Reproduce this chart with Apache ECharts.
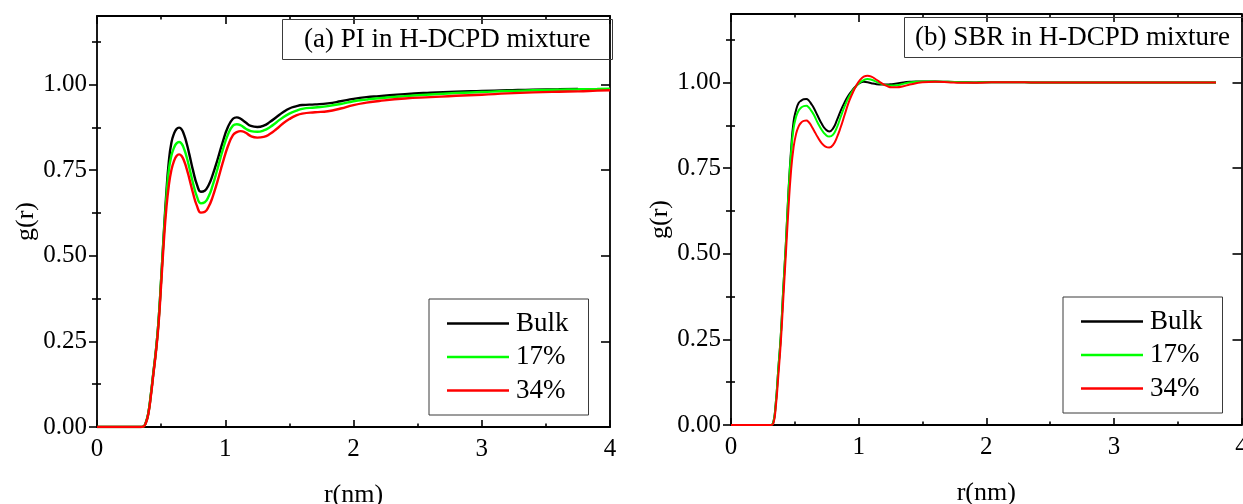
<!DOCTYPE html>
<html>
<head>
<meta charset="utf-8">
<script src="https://cdn.jsdelivr.net/npm/echarts@6/dist/echarts.min.js"></script>
<style>
  html, body { margin: 0; padding: 0; background: #ffffff; }
  #chart { width: 1243px; height: 504px; }
</style>
</head>
<body>
<div id="chart"></div>
<script>
// Radial distribution functions g(r) of the rubber chains in H-DCPD mixtures
const seriesNames = ['Bulk', '17%', '34%'];
const seriesColors = ['#000000', '#00ff00', '#ff0000'];

// Panel (a): PI
const rPI = [0, 0.2, 0.34, 0.36, 0.38, 0.40, 0.42, 0.44, 0.46, 0.48,
  0.50, 0.52, 0.54, 0.56, 0.58, 0.60, 0.62, 0.64, 0.66, 0.68,
  0.70, 0.72, 0.75, 0.78, 0.81, 0.84, 0.87, 0.90, 0.94, 0.98,
  1.02, 1.06, 1.09, 1.12, 1.16, 1.20, 1.25, 1.30, 1.35, 1.40,
  1.45, 1.50, 1.55, 1.60, 1.70, 1.80, 1.90, 2.0, 2.1, 2.2,
  2.4, 2.6, 2.8, 3.0, 3.2, 3.4, 3.6, 3.75, 3.9, 4.0];
const gPIBulk = [0, 0, 0, 0.001, 0.012, 0.04, 0.095, 0.16, 0.225, 0.31,
  0.43, 0.56, 0.68, 0.775, 0.83, 0.856, 0.870, 0.874, 0.869, 0.852,
  0.827, 0.796, 0.747, 0.707, 0.687, 0.690, 0.706, 0.734, 0.781, 0.832,
  0.875, 0.900, 0.904, 0.900, 0.889, 0.879, 0.876, 0.880, 0.891, 0.905,
  0.919, 0.930, 0.936, 0.940, 0.942, 0.945, 0.951, 0.958, 0.963, 0.966,
  0.972, 0.976, 0.979, 0.981, 0.983, 0.985, 0.986, 0.987, null, null];
const gPI17 = [0, 0, 0, 0.001, 0.012, 0.04, 0.095, 0.16, 0.225, 0.31,
  0.43, 0.555, 0.665, 0.75, 0.792, 0.815, 0.828, 0.832, 0.827, 0.811,
  0.787, 0.757, 0.710, 0.672, 0.653, 0.656, 0.673, 0.703, 0.754, 0.808,
  0.853, 0.880, 0.884, 0.881, 0.871, 0.864, 0.862, 0.866, 0.876, 0.890,
  0.904, 0.915, 0.923, 0.929, 0.933, 0.937, 0.943, 0.951, 0.956, 0.960,
  0.966, 0.971, 0.975, 0.978, 0.981, 0.983, 0.985, 0.986, 0.987, 0.988];
const gPI34 = [0, 0, 0, 0.001, 0.011, 0.038, 0.09, 0.155, 0.22, 0.30,
  0.415, 0.535, 0.635, 0.705, 0.75, 0.776, 0.791, 0.796, 0.791, 0.776,
  0.753, 0.725, 0.681, 0.645, 0.626, 0.628, 0.643, 0.670, 0.718, 0.771,
  0.819, 0.852, 0.861, 0.864, 0.859, 0.849, 0.845, 0.847, 0.856, 0.870,
  0.886, 0.899, 0.909, 0.915, 0.919, 0.922, 0.930, 0.940, 0.947, 0.952,
  0.959, 0.963, 0.967, 0.970, 0.974, 0.977, 0.979, 0.980, 0.982, 0.983];

// Panel (b): SBR
const rSBR = [0, 0.2, 0.31, 0.33, 0.35, 0.37, 0.39, 0.41, 0.43, 0.45,
  0.47, 0.49, 0.51, 0.53, 0.55, 0.57, 0.59, 0.61, 0.63, 0.65,
  0.68, 0.71, 0.74, 0.77, 0.80, 0.83, 0.86, 0.89, 0.92, 0.95,
  0.98, 1.01, 1.04, 1.07, 1.10, 1.14, 1.18, 1.22, 1.26, 1.30,
  1.35, 1.40, 1.45, 1.50, 1.60, 1.70, 1.80, 1.90, 2.0, 2.1,
  2.2, 2.4, 2.6, 2.8, 3.0, 3.2, 3.4, 3.6, 3.8];
const gSBRBulk = [0, 0, 0, 0.005, 0.06, 0.16, 0.26, 0.40, 0.53, 0.68,
  0.80, 0.885, 0.92, 0.94, 0.947, 0.951, 0.952, 0.947, 0.937, 0.925,
  0.902, 0.88, 0.864, 0.857, 0.866, 0.89, 0.918, 0.942, 0.962, 0.977,
  0.99, 0.999, 1.002, 1.001, 0.998, 0.995, 0.994, 0.994, 0.995, 0.997,
  1.0, 1.002, 1.003, 1.003, 1.003, 1.002, 1.001, 1.0, 1.001, 1.001,
  1.001, 1.0, 1.0, 1.0, 1.0, 1.0, 1.0, 1.0, 1.0];
const gSBR17 = [0, 0, 0, 0.005, 0.06, 0.16, 0.26, 0.40, 0.53, 0.675,
  0.79, 0.865, 0.90, 0.918, 0.927, 0.931, 0.932, 0.927, 0.917, 0.905,
  0.882, 0.862, 0.848, 0.842, 0.848, 0.869, 0.90, 0.93, 0.955, 0.974,
  0.989, 1.0, 1.007, 1.01, 1.008, 1.002, 0.996, 0.992, 0.991, 0.992,
  0.996, 1.0, 1.002, 1.003, 1.003, 1.002, 1.001, 1.0, 1.001, 1.001,
  1.001, 1.0, 1.0, 1.0, 1.0, 1.0, 1.0, 1.0, 1.0];
const gSBR34 = [0, 0, 0, 0.003, 0.05, 0.14, 0.24, 0.37, 0.50, 0.63,
  0.74, 0.81, 0.85, 0.872, 0.883, 0.888, 0.889, 0.884, 0.873, 0.86,
  0.84, 0.823, 0.813, 0.810, 0.818, 0.84, 0.87, 0.905, 0.94, 0.967,
  0.99, 1.007, 1.017, 1.02, 1.017, 1.008, 0.998, 0.99, 0.986, 0.986,
  0.989, 0.994, 0.998, 1.001, 1.002, 1.001, 0.999, 0.999, 1.0, 1.001,
  1.001, 1.0, 1.0, 1.0, 1.0, 1.0, 1.0, 1.0, 1.0];

// Tick positions
const xMajorTicks = [0, 1, 2, 3, 4];
const yMajorTicks = [0, 0.25, 0.5, 0.75, 1.0];
const yMinorTicks = [0.125, 0.375, 0.625, 0.875, 1.125];

const serif = '"Liberation Serif", "Times New Roman", serif';
const ink = '#000000';
const boxInk = '#3a3a3a';
const frameWidth = 1.8;
const tickWidth = 1.6;

const panels = [
  {
    title: '(a) PI in H-DCPD mixture',
    r: rPI, g: [gPIBulk, gPI17, gPI34], lineWidth: 2.4,
    grid: { left: 97, top: 16, width: 513, height: 411 },
    titleBox: { left: 282, top: 19, padding: [7, 22, 7, 22] },
    legendBox: { left: 429, top: 299 }
  },
  {
    title: '(b) SBR in H-DCPD mixture',
    r: rSBR, g: [gSBRBulk, gSBR17, gSBR34], lineWidth: 2,
    grid: { left: 731, top: 14, width: 510.5, height: 411 },
    titleBox: { left: 904, top: 17, padding: [7, 30, 7, 11] },
    legendBox: { left: 1063, top: 297 }
  }
];

const toPairs = (xs, ys) => xs.map((x, i) => [x, ys[i]]).filter(p => p[1] !== null);

const option = {
  animation: false,
  backgroundColor: '#ffffff',
  title: [], legend: [], grid: [], xAxis: [], yAxis: [], series: []
};

panels.forEach((p, k) => {
  option.grid.push(Object.assign({ outerBoundsMode: 'none', containLabel: false }, p.grid));

  option.title.push({
    text: p.title,
    left: p.titleBox.left, top: p.titleBox.top,
    padding: p.titleBox.padding,
    borderColor: boxInk, borderWidth: 1,
    textStyle: { fontFamily: serif, fontSize: 27, fontWeight: 'normal', color: ink }
  });

  // legend keys are plain line segments in the series colours
  option.legend.push({
    data: seriesNames.map((n, i) => ({ name: n, icon: 'rect', itemStyle: { color: seriesColors[i] } })),
    orient: 'vertical',
    left: p.legendBox.left, top: p.legendBox.top,
    padding: [11, 20, 11, 18],
    itemWidth: 62, itemHeight: 2.4, itemGap: 6.5,
    borderColor: boxInk, borderWidth: 1,
    selectedMode: false,
    textStyle: { fontFamily: serif, fontSize: 27, color: ink, padding: [0, 0, 0, 2] }
  });

  const xBase = option.xAxis.length;
  // bottom axis with labels
  option.xAxis.push({
    type: 'value', gridIndex: k, position: 'bottom',
    min: 0, max: 4, interval: 1,
    name: 'r(nm)', nameLocation: 'middle', nameGap: 55,
    nameTextStyle: { fontFamily: serif, fontSize: 26, color: ink },
    axisLine: { show: true, onZero: false, lineStyle: { color: ink, width: frameWidth } },
    axisTick: { show: true, inside: true, length: 7, lineStyle: { color: ink, width: tickWidth } },
    minorTick: { show: true, splitNumber: 2, length: 3.5, lineStyle: { color: ink, width: tickWidth } },
    axisLabel: { show: true, margin: 10, fontFamily: serif, fontSize: 25, color: ink },
    splitLine: { show: false }
  });
  // top frame
  option.xAxis.push({
    type: 'value', gridIndex: k, position: 'top',
    min: 0, max: 4, interval: 1,
    axisLine: { show: true, onZero: false, lineStyle: { color: ink, width: frameWidth } },
    axisTick: { show: true, inside: true, length: 8, lineStyle: { color: ink, width: tickWidth } },
    minorTick: { show: true, splitNumber: 2, length: 3.5, lineStyle: { color: ink, width: tickWidth } },
    axisLabel: { show: false },
    splitLine: { show: false }
  });

  const yBase = option.yAxis.length;
  // left axis: labelled major ticks pointing out
  option.yAxis.push({
    type: 'value', gridIndex: k, position: 'left',
    min: 0, max: 1.2,
    name: 'g(r)', nameLocation: 'middle', nameGap: 58, nameRotate: 90,
    nameTextStyle: { fontFamily: serif, fontSize: 26, color: ink },
    axisLine: { show: true, onZero: false, lineStyle: { color: ink, width: frameWidth } },
    axisTick: { show: true, inside: false, length: 8, customValues: yMajorTicks, lineStyle: { color: ink, width: tickWidth } },
    axisLabel: { show: true, margin: 10, customValues: yMajorTicks, fontFamily: serif, fontSize: 25, color: ink,
      formatter: v => v.toFixed(2) },
    splitLine: { show: false }
  });
  // left axis: short minor ticks pointing in
  option.yAxis.push({
    type: 'value', gridIndex: k, position: 'left',
    min: 0, max: 1.2,
    axisLine: { show: false },
    axisTick: { show: true, inside: true, length: 4, customValues: yMinorTicks, lineStyle: { color: ink, width: tickWidth } },
    axisLabel: { show: false },
    splitLine: { show: false }
  });
  // right frame with major ticks pointing in
  option.yAxis.push({
    type: 'value', gridIndex: k, position: 'right',
    min: 0, max: 1.2,
    axisLine: { show: true, onZero: false, lineStyle: { color: ink, width: frameWidth } },
    axisTick: { show: true, inside: true, length: 9, customValues: yMajorTicks, lineStyle: { color: ink, width: tickWidth } },
    axisLabel: { show: false },
    splitLine: { show: false }
  });
  // right frame minor ticks
  option.yAxis.push({
    type: 'value', gridIndex: k, position: 'right',
    min: 0, max: 1.2,
    axisLine: { show: false },
    axisTick: { show: true, inside: true, length: 5, customValues: yMinorTicks, lineStyle: { color: ink, width: tickWidth } },
    axisLabel: { show: false },
    splitLine: { show: false }
  });

  p.g.forEach((vals, i) => {
    option.series.push({
      type: 'line',
      name: seriesNames[i],
      xAxisIndex: xBase, yAxisIndex: yBase,
      data: toPairs(p.r, vals),
      symbol: 'none',
      smooth: 0.5,
      clip: true,
      z: 2 + i,
      lineStyle: { color: seriesColors[i], width: p.lineWidth },
      itemStyle: { color: seriesColors[i] }
    });
  });
});

const chart = echarts.init(document.getElementById('chart'), null, { renderer: 'canvas' });
chart.setOption(option);
</script>
</body>
</html>
